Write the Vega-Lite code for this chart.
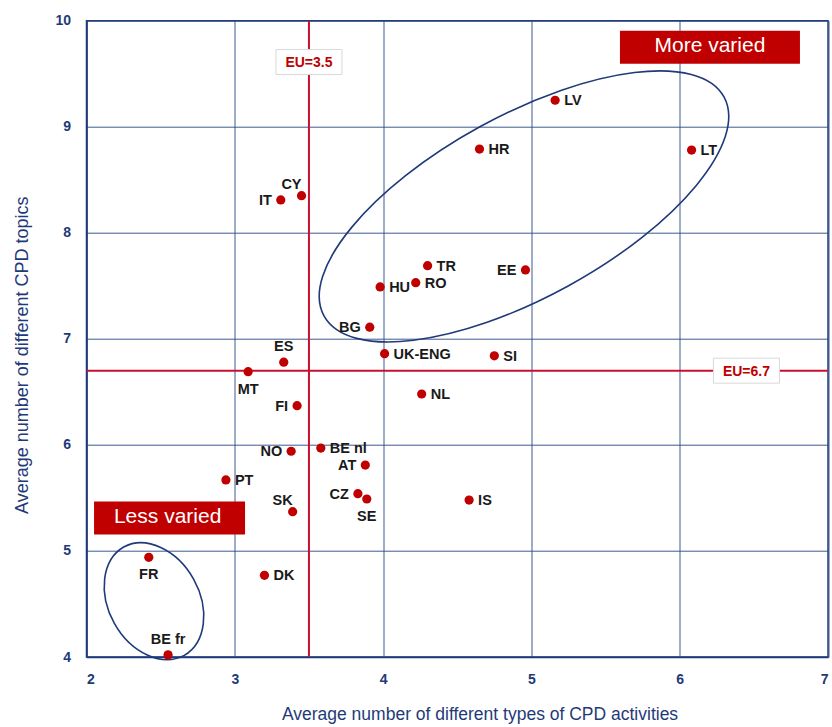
{
  "$schema": "https://vega.github.io/schema/vega-lite/v6.json",
  "autosize": {"type": "none"},
  "padding": {"left": 86.5, "top": 20.7, "right": 4, "bottom": 70},
  "width": 741.5,
  "height": 636.3,
  "background": "white",
  "config": {
    "view": {"stroke": "#1F3A78", "strokeWidth": 1.5},
    "font": "Liberation Sans",
    "axis": {
      "domainColor": "#1F3A78",
      "domainWidth": 1.5,
      "gridColor": "#2A4785",
      "gridWidth": 1,
      "gridOpacity": 0.9,
      "ticks": false,
      "labelFont": "Liberation Sans",
      "labelFontWeight": "bold",
      "labelFontSize": 14,
      "labelColor": "#1F3A78",
      "titleFont": "Liberation Sans",
      "titleFontWeight": "normal",
      "titleColor": "#1F3A78"
    }
  },
  "datasets": {
    "countries": [
      {"country": "LV", "x": 5.16, "y": 9.25, "pos": "r"},
      {"country": "HR", "x": 4.65, "y": 8.79, "pos": "r"},
      {"country": "LT", "x": 6.08, "y": 8.78, "pos": "r"},
      {"country": "TR", "x": 4.30, "y": 7.69, "pos": "r"},
      {"country": "RO", "x": 4.22, "y": 7.53, "pos": "r"},
      {"country": "EE", "x": 4.96, "y": 7.65, "pos": "l"},
      {"country": "HU", "x": 3.98, "y": 7.49, "pos": "r"},
      {"country": "BG", "x": 3.91, "y": 7.11, "pos": "l"},
      {"country": "CY", "x": 3.45, "y": 8.35, "pos": "ul"},
      {"country": "IT", "x": 3.31, "y": 8.31, "pos": "l"},
      {"country": "ES", "x": 3.33, "y": 6.78, "pos": "a"},
      {"country": "UK-ENG", "x": 4.01, "y": 6.86, "pos": "r"},
      {"country": "SI", "x": 4.75, "y": 6.84, "pos": "r"},
      {"country": "MT", "x": 3.09, "y": 6.69, "pos": "b"},
      {"country": "FI", "x": 3.42, "y": 6.37, "pos": "l"},
      {"country": "NL", "x": 4.26, "y": 6.48, "pos": "r"},
      {"country": "NO", "x": 3.38, "y": 5.94, "pos": "l"},
      {"country": "BE nl", "x": 3.58, "y": 5.97, "pos": "r"},
      {"country": "AT", "x": 3.88, "y": 5.81, "pos": "l"},
      {"country": "PT", "x": 2.94, "y": 5.67, "pos": "r"},
      {"country": "CZ", "x": 3.83, "y": 5.54, "pos": "l"},
      {"country": "SE", "x": 3.89, "y": 5.49, "pos": "b"},
      {"country": "SK", "x": 3.39, "y": 5.37, "pos": "ul"},
      {"country": "IS", "x": 4.58, "y": 5.48, "pos": "r"},
      {"country": "FR", "x": 2.42, "y": 4.94, "pos": "b"},
      {"country": "DK", "x": 3.20, "y": 4.77, "pos": "r"},
      {"country": "BE fr", "x": 2.55, "y": 4.02, "pos": "a"}
    ]
  },
  "layer": [
    {
      "data": {"name": "countries"},
      "mark": {"type": "point", "filled": true, "color": "#C00000", "size": 0, "opacity": 0},
      "encoding": {
        "x": {
          "field": "x", "type": "quantitative",
          "scale": {"domain": [2, 7], "nice": false, "zero": false},
          "axis": {
            "title": "Average number of different types of CPD activities",
            "values": [2, 3, 4, 5, 6, 7],
            "format": "d",
            "grid": true,
            "labelPadding": 15,
            "titleFontSize": 17.5,
            "titleX": 393,
            "titleY": 57,
            "titleAlign": "center",
            "titleBaseline": "middle"
          }
        },
        "y": {
          "field": "y", "type": "quantitative",
          "scale": {"domain": [4, 10], "nice": false, "zero": false},
          "axis": {
            "title": "Average number of different CPD topics",
            "values": [4, 5, 6, 7, 8, 9, 10],
            "format": "d",
            "grid": true,
            "labelPadding": 16,
            "titleFontSize": 18,
            "titleX": -64,
            "titleY": 334,
            "titleAngle": -90,
            "titleAlign": "center",
            "titleBaseline": "middle"
          }
        }
      }
    },
    {
      "data": {"values": [{"x": 3.5}]},
      "mark": {"type": "rule", "color": "#C8102E", "strokeWidth": 2},
      "encoding": {
        "x": {"field": "x", "type": "quantitative"}
      }
    },
    {
      "data": {"values": [{"y": 6.7}]},
      "mark": {"type": "rule", "color": "#C8102E", "strokeWidth": 2},
      "encoding": {
        "y": {"field": "y", "type": "quantitative"}
      }
    },
    {
      "data": {"values": [{"label": "EU=3.5", "x": 3.5, "y": 9.61}, {"label": "EU=6.7", "x": 6.45, "y": 6.7}]},
      "mark": {"type": "point", "shape": "M -33 -12.5 H 33 V 12.5 H -33 Z", "size": 4, "filled": true, "fill": "white", "stroke": "#D9D9D9", "strokeWidth": 1, "opacity": 1},
      "encoding": {
        "x": {"field": "x", "type": "quantitative"},
        "y": {"field": "y", "type": "quantitative"}
      }
    },
    {
      "data": {"values": [{"label": "EU=3.5", "x": 3.5, "y": 9.61}, {"label": "EU=6.7", "x": 6.45, "y": 6.7}]},
      "mark": {"type": "text", "color": "#C00000", "fontWeight": "bold", "fontSize": 14, "align": "center", "baseline": "middle", "dy": 1},
      "encoding": {
        "x": {"field": "x", "type": "quantitative"},
        "y": {"field": "y", "type": "quantitative"},
        "text": {"field": "label"}
      }
    },
    {
      "data": {"values": [{"group": "More varied", "x": 4.95, "y": 8.249}]},
      "mark": {"type": "point", "shape": "M -200 109.5 A 228 91 -28.7 0 1 200 -109.5 A 228 91 -28.7 0 1 -200 109.5 Z", "size": 4, "filled": false, "stroke": "#1F3A78", "strokeWidth": 1.6, "opacity": 1},
      "encoding": {
        "x": {"field": "x", "type": "quantitative"},
        "y": {"field": "y", "type": "quantitative"}
      }
    },
    {
      "data": {"values": [{"group": "Less varied", "x": 2.455, "y": 4.526}]},
      "mark": {"type": "point", "shape": "M -30.3 -54.2 A 62.1 46 60.8 0 1 30.3 54.2 A 62.1 46 60.8 0 1 -30.3 -54.2 Z", "size": 4, "filled": false, "stroke": "#1F3A78", "strokeWidth": 1.6, "opacity": 1},
      "encoding": {
        "x": {"field": "x", "type": "quantitative"},
        "y": {"field": "y", "type": "quantitative"}
      }
    },
    {
      "data": {"values": [{"label": "More varied", "x": 6.204, "y": 9.749}]},
      "mark": {"type": "point", "shape": "M -90 -16.5 H 90 V 16.5 H -90 Z", "size": 4, "filled": true, "fill": "#C00000", "strokeWidth": 0, "opacity": 1},
      "encoding": {
        "x": {"field": "x", "type": "quantitative"},
        "y": {"field": "y", "type": "quantitative"}
      }
    },
    {
      "data": {"values": [{"label": "Less varied", "x": 2.56, "y": 5.31}]},
      "mark": {"type": "point", "shape": "M -75.5 -16.5 H 75.5 V 16.5 H -75.5 Z", "size": 4, "filled": true, "fill": "#C00000", "strokeWidth": 0, "opacity": 1},
      "encoding": {
        "x": {"field": "x", "type": "quantitative"},
        "y": {"field": "y", "type": "quantitative"}
      }
    },
    {
      "data": {"values": [{"label": "More varied", "x": 6.204, "y": 9.749}, {"label": "Less varied", "x": 2.547, "y": 5.31}]},
      "mark": {"type": "text", "color": "white", "font": "Liberation Sans", "fontSize": 21, "align": "center", "baseline": "middle", "dy": -1},
      "encoding": {
        "x": {"field": "x", "type": "quantitative"},
        "y": {"field": "y", "type": "quantitative"},
        "text": {"field": "label"}
      }
    },
    {
      "data": {"name": "countries"},
      "mark": {"type": "point", "filled": true, "color": "#C00000", "size": 85, "opacity": 1},
      "encoding": {
        "x": {"field": "x", "type": "quantitative"},
        "y": {"field": "y", "type": "quantitative"}
      }
    },
    {
      "data": {"name": "countries"},
      "transform": [{"filter": "datum.pos == 'r'"}],
      "mark": {"type": "text", "align": "left", "baseline": "middle", "dx": 9, "dy": 1, "fontWeight": "bold", "fontSize": 14.5, "color": "#1A1A1A"},
      "encoding": {
        "x": {"field": "x", "type": "quantitative"},
        "y": {"field": "y", "type": "quantitative"},
        "text": {"field": "country"}
      }
    },
    {
      "data": {"name": "countries"},
      "transform": [{"filter": "datum.pos == 'l'"}],
      "mark": {"type": "text", "align": "right", "baseline": "middle", "dx": -9, "dy": 1, "fontWeight": "bold", "fontSize": 14.5, "color": "#1A1A1A"},
      "encoding": {
        "x": {"field": "x", "type": "quantitative"},
        "y": {"field": "y", "type": "quantitative"},
        "text": {"field": "country"}
      }
    },
    {
      "data": {"name": "countries"},
      "transform": [{"filter": "datum.pos == 'a'"}],
      "mark": {"type": "text", "align": "center", "baseline": "middle", "dy": -15, "fontWeight": "bold", "fontSize": 14.5, "color": "#1A1A1A"},
      "encoding": {
        "x": {"field": "x", "type": "quantitative"},
        "y": {"field": "y", "type": "quantitative"},
        "text": {"field": "country"}
      }
    },
    {
      "data": {"name": "countries"},
      "transform": [{"filter": "datum.pos == 'b'"}],
      "mark": {"type": "text", "align": "center", "baseline": "middle", "dy": 18, "fontWeight": "bold", "fontSize": 14.5, "color": "#1A1A1A"},
      "encoding": {
        "x": {"field": "x", "type": "quantitative"},
        "y": {"field": "y", "type": "quantitative"},
        "text": {"field": "country"}
      }
    },
    {
      "data": {"name": "countries"},
      "transform": [{"filter": "datum.pos == 'ul'"}],
      "mark": {"type": "text", "align": "right", "baseline": "middle", "dx": 0, "dy": -11, "fontWeight": "bold", "fontSize": 14.5, "color": "#1A1A1A"},
      "encoding": {
        "x": {"field": "x", "type": "quantitative"},
        "y": {"field": "y", "type": "quantitative"},
        "text": {"field": "country"}
      }
    }
  ]
}
